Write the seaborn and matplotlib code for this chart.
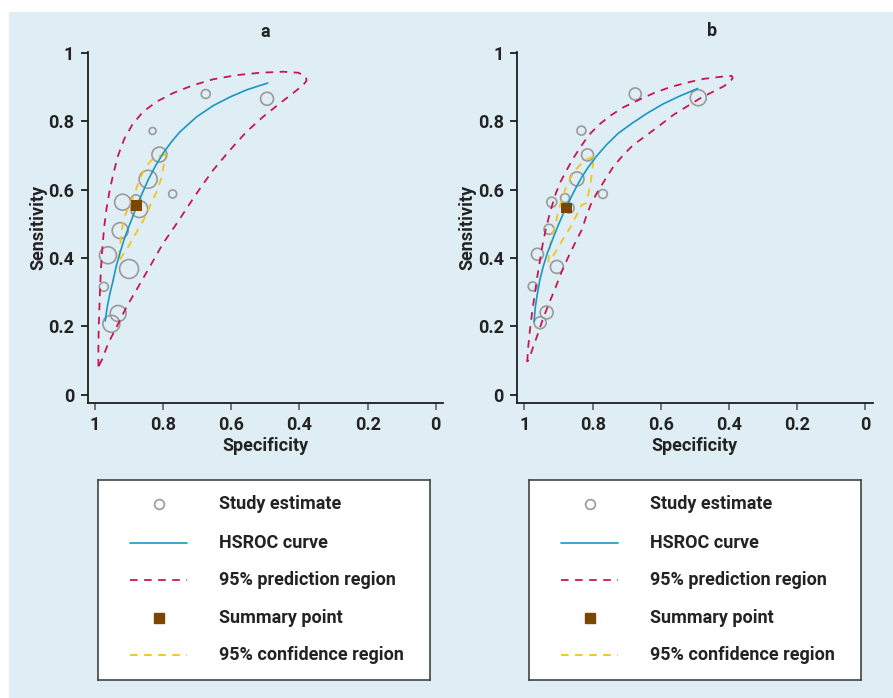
import numpy as np
import pandas as pd
import matplotlib
matplotlib.use("Agg")
import matplotlib.pyplot as plt
from matplotlib.patches import Rectangle
from matplotlib.lines import Line2D
import seaborn as sns

# ---------------- data ----------------
panels = ["a", "b"]

# study estimates (specificity, sensitivity, relative study weight)
study_spec_a = [0.675, 0.495, 0.831, 0.811, 0.844, 0.772, 0.919, 0.880, 0.870, 0.926, 0.962, 0.900, 0.974, 0.932, 0.952]
study_sens_a = [0.879, 0.865, 0.771, 0.702, 0.630, 0.587, 0.563, 0.570, 0.543, 0.480, 0.408, 0.368, 0.316, 0.238, 0.208]
study_w_a = [20, 42, 12, 56, 81, 16, 64, 25, 72, 64, 72, 90, 20, 64, 72]

study_spec_b = [0.675, 0.490, 0.833, 0.815, 0.846, 0.770, 0.920, 0.881, 0.869, 0.928, 0.962, 0.905, 0.976, 0.935, 0.954]
study_sens_b = [0.879, 0.868, 0.772, 0.701, 0.631, 0.587, 0.563, 0.575, 0.546, 0.484, 0.411, 0.374, 0.317, 0.241, 0.211]
study_w_b = [36, 64, 20, 36, 49, 20, 25, 20, 25, 25, 36, 42, 20, 42, 36]

# HSROC curve
hsroc_spec_a = [0.970, 0.964, 0.956, 0.947, 0.938, 0.927, 0.912, 0.897, 0.883, 0.868, 0.844, 0.822,
                0.800, 0.775, 0.751, 0.702, 0.653, 0.604, 0.555, 0.493]
hsroc_sens_a = [0.216, 0.258, 0.297, 0.334, 0.375, 0.414, 0.462, 0.501, 0.537, 0.574, 0.628, 0.670,
                0.706, 0.740, 0.768, 0.812, 0.845, 0.870, 0.891, 0.911]
hsroc_spec_b = [0.972, 0.968, 0.962, 0.955, 0.945, 0.933, 0.918, 0.903, 0.886, 0.862, 0.847, 0.832,
                0.813, 0.788, 0.759, 0.725, 0.685, 0.641, 0.593, 0.544, 0.492]
hsroc_sens_b = [0.214, 0.258, 0.297, 0.336, 0.375, 0.414, 0.453, 0.491, 0.530, 0.580, 0.609, 0.636,
                0.665, 0.698, 0.731, 0.764, 0.793, 0.822, 0.850, 0.873, 0.895]

# 95% prediction region (closed contour)
pred_spec_a = [0.990, 0.990, 0.989, 0.987, 0.985, 0.982, 0.978, 0.973, 0.966, 0.957, 0.946, 0.932,
               0.914, 0.890, 0.860, 0.820, 0.770, 0.711, 0.653, 0.584, 0.516, 0.447, 0.403, 0.381,
               0.379, 0.389, 0.413, 0.457, 0.506, 0.555, 0.604, 0.653, 0.687, 0.721, 0.760, 0.800,
               0.839, 0.873, 0.907, 0.936, 0.961, 0.980]
pred_sens_a = [0.083, 0.141, 0.200, 0.258, 0.316, 0.375, 0.433, 0.491, 0.545, 0.597, 0.647, 0.700,
               0.748, 0.790, 0.826, 0.856, 0.882, 0.905, 0.922, 0.934, 0.941, 0.944, 0.941, 0.929,
               0.918, 0.905, 0.886, 0.852, 0.813, 0.769, 0.715, 0.657, 0.610, 0.560, 0.501, 0.443,
               0.375, 0.316, 0.258, 0.200, 0.151, 0.102]
pred_spec_b = [0.992, 0.989, 0.984, 0.978, 0.971, 0.964, 0.956, 0.948, 0.938, 0.927, 0.920, 0.908,
               0.894, 0.876, 0.857, 0.835, 0.811, 0.783, 0.749, 0.710, 0.666, 0.622, 0.573, 0.524,
               0.475, 0.426, 0.392, 0.389, 0.397, 0.416, 0.446, 0.485, 0.524, 0.563, 0.602, 0.641,
               0.681, 0.710, 0.739, 0.764, 0.788, 0.806, 0.819, 0.832, 0.852, 0.871, 0.891, 0.910,
               0.930, 0.947, 0.962, 0.976, 0.986]
pred_sens_b = [0.097, 0.141, 0.190, 0.238, 0.287, 0.336, 0.384, 0.433, 0.482, 0.526, 0.550, 0.589,
               0.623, 0.657, 0.691, 0.725, 0.759, 0.788, 0.815, 0.840, 0.861, 0.881, 0.899, 0.912,
               0.923, 0.929, 0.932, 0.925, 0.915, 0.901, 0.886, 0.866, 0.842, 0.818, 0.788, 0.759,
               0.730, 0.701, 0.667, 0.628, 0.589, 0.555, 0.521, 0.482, 0.443, 0.404, 0.360, 0.311,
               0.263, 0.219, 0.175, 0.136, 0.107]

# 95% confidence region (closed contour)
conf_spec_a = [0.792, 0.809, 0.834, 0.853, 0.870, 0.883, 0.900, 0.917, 0.922, 0.927, 0.930,
               0.922, 0.902, 0.883, 0.863, 0.848, 0.834, 0.818, 0.804, 0.799]
conf_sens_a = [0.704, 0.698, 0.686, 0.662, 0.628, 0.589, 0.552, 0.511, 0.472, 0.433, 0.389,
               0.404, 0.433, 0.467, 0.501, 0.530, 0.564, 0.595, 0.637, 0.667]
conf_spec_b = [0.798, 0.818, 0.837, 0.855, 0.868, 0.881, 0.891, 0.901, 0.910, 0.923, 0.927, 0.930,
               0.920, 0.906, 0.891, 0.876, 0.862, 0.847, 0.832, 0.820, 0.812, 0.806, 0.802, 0.799]
conf_sens_b = [0.696, 0.688, 0.672, 0.652, 0.628, 0.599, 0.569, 0.535, 0.495, 0.453, 0.414, 0.389,
               0.399, 0.423, 0.448, 0.472, 0.496, 0.526, 0.555, 0.560, 0.589, 0.618, 0.647, 0.676]

# summary point
summary_spec = [0.879, 0.877]
summary_sens = [0.553, 0.546]

tick_values = [1, 0.8, 0.6, 0.4, 0.2, 0]
tick_labels = ["1", "0.8", "0.6", "0.4", "0.2", "0"]

legend_labels = ["Study estimate", "HSROC curve", "95% prediction region",
                 "Summary point", "95% confidence region"]

# ---------------- style ----------------
BG = "#dfedf5"
C_STUDY = "#9a9a9a"
C_HSROC = "#1a97c1"
C_PRED = "#c8174f"
C_CONF = "#f6c21c"
C_SUM = "#7a4600"
C_TXT = "#232323"
FS = 13

sns.set_theme(style="ticks")
plt.rcParams["font.family"] = ["Roboto", "DejaVu Sans"]
plt.rcParams["font.weight"] = "bold"

W, H = 893, 698
fig = plt.figure(figsize=(W / 100, H / 100), dpi=100)
fig.patch.set_facecolor("white")
fig.patches.append(Rectangle((9 / W, 0), 1, 1 - 12 / H, transform=fig.transFigure,
                             facecolor=BG, edgecolor="none", zorder=-10))

PRED_DASH = (4.2, 3.6)
CONF_DASH = (4.2, 3.6)


def closed(xs, ys):
    return pd.DataFrame({"spec": list(xs) + [xs[0]], "sens": list(ys) + [ys[0]]})


data = {
    "a": dict(ss=study_spec_a, se=study_sens_a, w=study_w_a, hx=hsroc_spec_a, hy=hsroc_sens_a,
              px=pred_spec_a, py=pred_sens_a, cx=conf_spec_a, cy=conf_sens_a),
    "b": dict(ss=study_spec_b, se=study_sens_b, w=study_w_b, hx=hsroc_spec_b, hy=hsroc_sens_b,
              px=pred_spec_b, py=pred_sens_b, cx=conf_spec_b, cy=conf_sens_b),
}

all_w = study_w_a + study_w_b
wmin, wmax = min(all_w), max(all_w)
title_x = [0.5, 0.548]
title_pad = [11, 12]

for i, p in enumerate(panels):
    d = data[p]
    left_px = 87.5 + 429.5 * i
    ax = fig.add_axes([left_px / W, (H - 403) / H, 355.5 / W, 350.8 / H])
    ax.patch.set_alpha(0)

    # study estimates
    dfs = pd.DataFrame({"spec": d["ss"], "sens": d["se"], "w": d["w"]})
    sns.scatterplot(data=dfs, x="spec", y="sens", size="w",
                    sizes=(wmin * 2.07, wmax * 2.07), size_norm=(wmin, wmax),
                    facecolor="none", edgecolor=C_STUDY, linewidth=1.2,
                    legend=False, ax=ax, zorder=2)

    # prediction region
    dfp = closed(d["px"], d["py"])
    sns.lineplot(data=dfp, x="spec", y="sens", sort=False, estimator=None,
                 color=C_PRED, linewidth=1.3, ax=ax, zorder=3)
    ax.lines[-1].set_dashes(PRED_DASH)

    # confidence region
    dfc = closed(d["cx"], d["cy"])
    sns.lineplot(data=dfc, x="spec", y="sens", sort=False, estimator=None,
                 color=C_CONF, linewidth=1.3, ax=ax, zorder=3)
    ax.lines[-1].set_dashes(CONF_DASH)

    # HSROC curve
    dfh = pd.DataFrame({"spec": d["hx"], "sens": d["hy"]})
    sns.lineplot(data=dfh, x="spec", y="sens", sort=False, estimator=None,
                 color=C_HSROC, linewidth=1.2, ax=ax, zorder=4)

    # summary point
    sns.scatterplot(x=[summary_spec[i]], y=[summary_sens[i]], marker="s", s=62,
                    color=C_SUM, edgecolor="none", linewidth=0, ax=ax, zorder=5)

    ax.set_xlim(1.022, -0.0214)
    ax.set_ylim(-0.0234, 1.001)
    ax.set_xticks(tick_values)
    ax.set_xticklabels(tick_labels)
    ax.set_yticks(tick_values)
    ax.set_yticklabels(tick_labels)
    for s in ["top", "right"]:
        ax.spines[s].set_visible(False)
    for s in ["left", "bottom"]:
        ax.spines[s].set_color("#1e1e1e")
        ax.spines[s].set_linewidth(1.3)
    ax.tick_params(axis="x", length=5, width=1.3, color="#6a6a6a", pad=4.5,
                   labelsize=FS, labelcolor=C_TXT)
    ax.tick_params(axis="y", length=5, width=1.3, color="#1e1e1e", pad=4.5,
                   labelsize=FS, labelcolor=C_TXT)
    for lab in ax.get_xticklabels() + ax.get_yticklabels():
        lab.set_fontweight("bold")

    ax.set_xlabel("Specificity", fontsize=FS, fontweight="bold", color=C_TXT)
    ax.set_ylabel("Sensitivity", fontsize=FS, fontweight="bold", color=C_TXT)
    ax.xaxis.set_label_coords(0.5, -0.098)
    ax.yaxis.set_label_coords(-0.113, 0.5)
    ax.set_title(p, fontsize=FS, fontweight="bold", color=C_TXT, pad=title_pad[i], x=title_x[i])

    # legend box
    bx0 = 98 + 431 * i
    bw, bh = 332, 200
    lax = fig.add_axes([bx0 / W, (H - 680) / H, bw / W, bh / H])
    lax.set_xlim(0, bw)
    lax.set_ylim(bh, 0)
    lax.set_xticks([])
    lax.set_yticks([])
    lax.set_facecolor("white")
    for s in lax.spines.values():
        s.set_color("#444444")
        s.set_linewidth(1.2)
    rows = [24, 63, 100, 138, 175]
    handles = [
        Line2D([60.5], [rows[0]], marker="o", markersize=7, markerfacecolor="none",
               markeredgecolor=C_STUDY, markeredgewidth=1.2, linestyle="none"),
        Line2D([32, 89], [rows[1]] * 2, color=C_HSROC, linewidth=1.2),
        Line2D([32, 89], [rows[2]] * 2, color=C_PRED, linewidth=1.3, dashes=PRED_DASH),
        Line2D([60.5], [rows[3]], marker="s", markersize=7.5, color=C_SUM, linestyle="none"),
        Line2D([32, 89], [rows[4]] * 2, color=C_CONF, linewidth=1.3, dashes=CONF_DASH),
    ]
    for h, y, lbl in zip(handles, rows, legend_labels):
        lax.add_line(h)
        lax.text(121, y, lbl, fontsize=FS, fontweight="bold", color=C_TXT,
                 va="center", ha="left")

fig.savefig("out.png", dpi=100, facecolor=fig.get_facecolor())
